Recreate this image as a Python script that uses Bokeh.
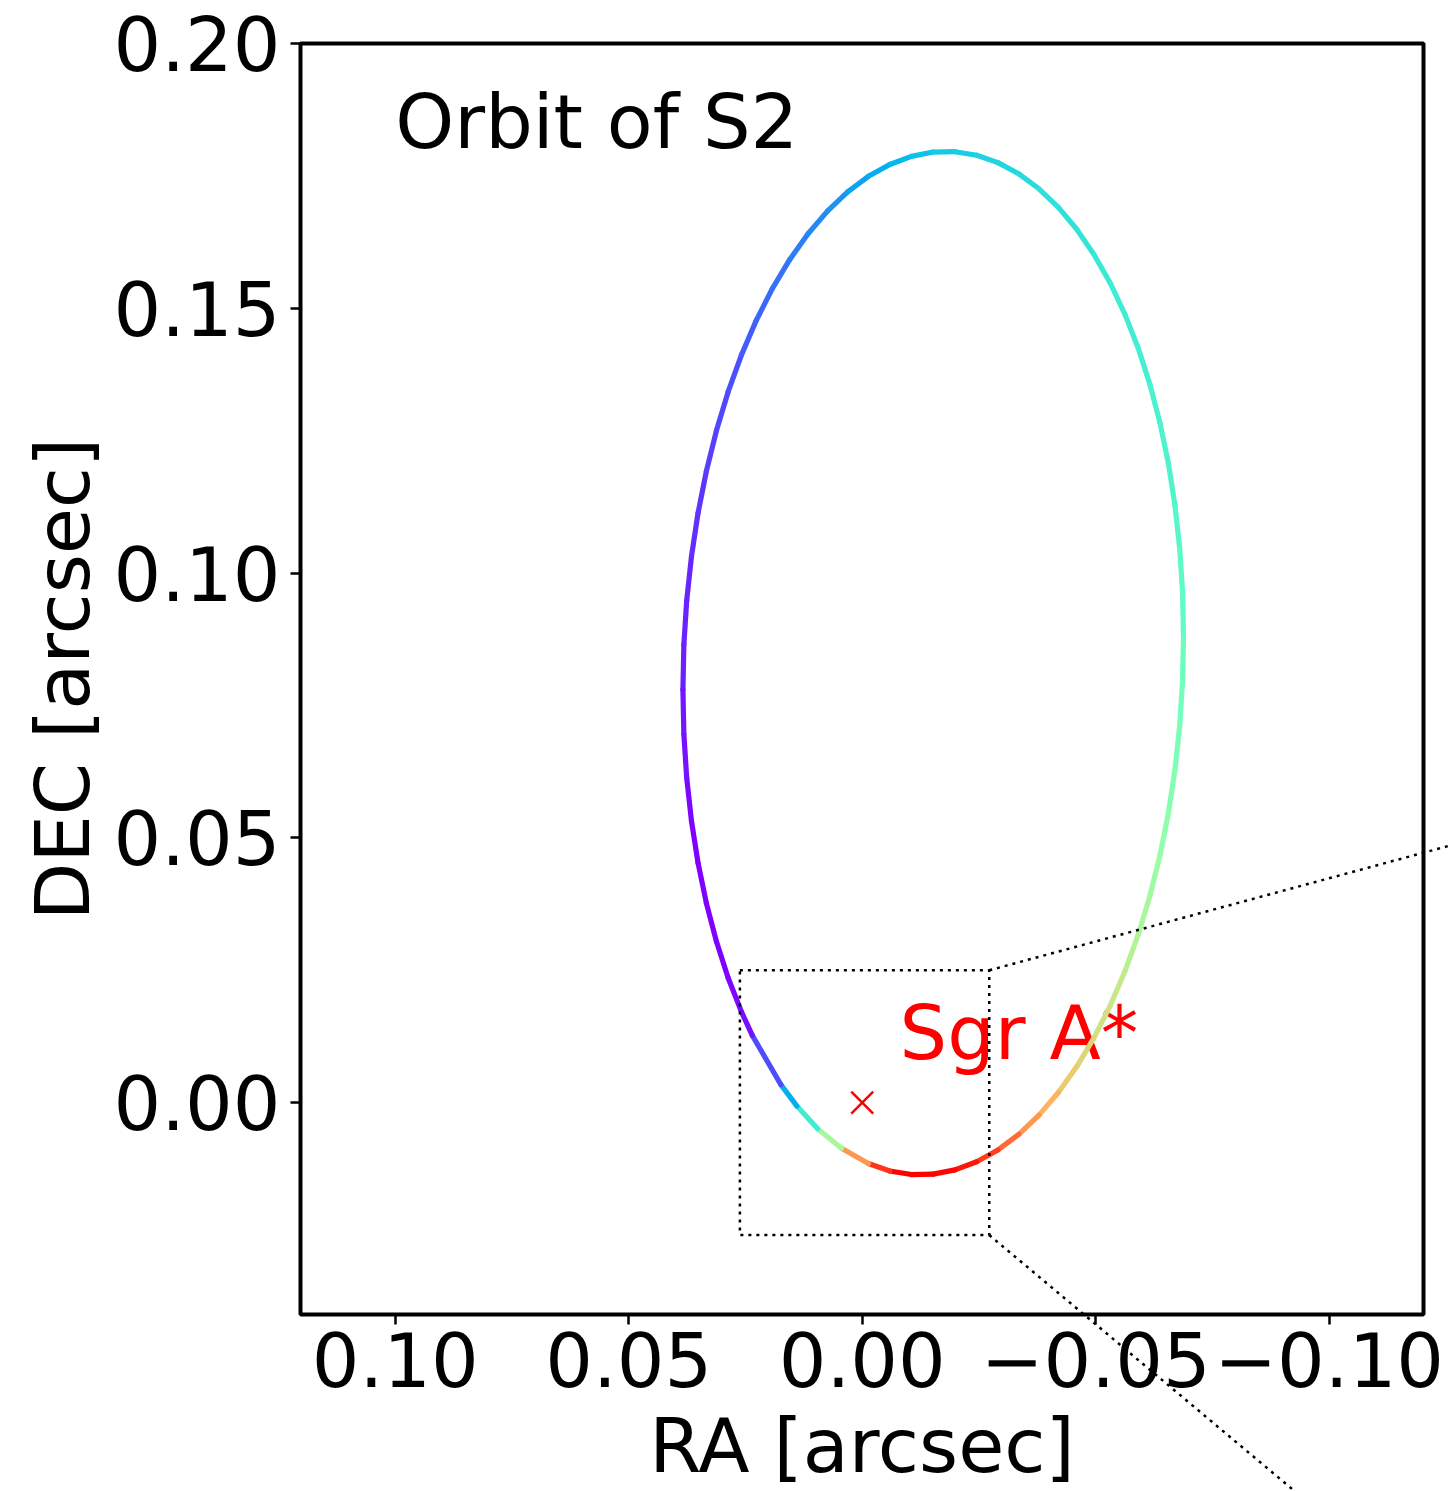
import math
from bokeh.plotting import figure
from bokeh.models import Range1d, FixedTicker, CustomJSTickFormatter, ColumnDataSource, GridBox
from bokeh.transform import linear_cmap
from bokeh.core.properties import value
from bokeh.embed import file_html
from bokeh.resources import INLINE

# ---- data ----
# projected orbit of S2 (RA, DEC in arcsec), in drawing order
ra = [0.0384, 0.0382, 0.03759, 0.03657, 0.03517, 0.03338, 0.03122, 0.02871, 0.02586, 0.0227,
      0.01925, 0.01554, 0.0116, 0.00745, 0.00313, -0.00133, -0.0059, -0.01053, -0.0152, -0.01987,
      -0.0245, -0.02907, -0.03353, -0.03785, -0.042, -0.04594, -0.04965, -0.0531, -0.05626, -0.05911,
      -0.06162, -0.06378, -0.06557, -0.06697, -0.06799, -0.0686, -0.0688, -0.0686, -0.06799, -0.06697,
      -0.06557, -0.06378, -0.06162, -0.05911, -0.05626, -0.0531, -0.04965, -0.04594, -0.042, -0.03785,
      -0.03353, -0.02907, -0.0245, -0.01987, -0.0152, -0.01053, -0.0059, -0.00133, 0.00444, 0.00955,
      0.01399, 0.01743, 0.02357, 0.02586, 0.02871, 0.03122, 0.03338, 0.03517, 0.03657, 0.03759,
      0.0382, 0.0384]
dec = [0.078, 0.08643, 0.09483, 0.10314, 0.1113, 0.11925, 0.12692, 0.13425, 0.1412, 0.1477,
       0.15371, 0.15918, 0.16407, 0.16835, 0.17197, 0.17492, 0.17716, 0.17869, 0.1795, 0.17957,
       0.1789, 0.1775, 0.17539, 0.17257, 0.16907, 0.16492, 0.16013, 0.15478, 0.14886, 0.14245,
       0.13558, 0.12831, 0.1207, 0.1128, 0.10467, 0.09639, 0.088, 0.07957, 0.07117, 0.06286,
       0.0547, 0.04675, 0.03908, 0.03175, 0.0248, 0.0183, 0.01229, 0.00682, 0.00193, -0.00235,
       -0.00597, -0.00892, -0.01116, -0.01269, -0.0135, -0.01357, -0.0129, -0.0115, -0.00861, -0.00491,
       -0.00065, 0.0034, 0.01275, 0.01714, 0.02355, 0.03042, 0.03769, 0.0453, 0.0532, 0.06133,
       0.06961, 0.078]
# colour value (0..1 on the rainbow map) of each orbit segment
seg_value = [0.04, 0.045, 0.05, 0.06, 0.07, 0.08, 0.09, 0.105, 0.12, 0.135,
             0.15, 0.165, 0.18, 0.2, 0.22, 0.24, 0.26, 0.275, 0.29, 0.3,
             0.31, 0.32, 0.33, 0.34, 0.345, 0.355, 0.365, 0.375, 0.38, 0.39,
             0.395, 0.405, 0.41, 0.42, 0.435, 0.445, 0.46, 0.475, 0.49, 0.51,
             0.535, 0.555, 0.58, 0.605, 0.635, 0.655, 0.68, 0.71, 0.75, 0.8,
             0.86, 0.92, 0.97, 0.99, 1.0, 1.0, 0.93, 0.8, 0.58, 0.375,
             0.24, 0.1, 0.02, 0.01, 0.0, 0.0, 0.0, 0.0, 0.01, 0.02,
             0.03]

sgr_ra = [0.0]
sgr_dec = [0.0]

# zoom box (inset region) and its connector lines toward the (off-page) inset
box_left, box_right, box_bottom, box_top = 0.0262, -0.0272, -0.025, 0.025
conn_top_end = (-0.1797, 0.0614)
conn_bottom_end = (-0.1461, -0.1129)

x_ticks = [0.10, 0.05, 0.00, -0.05, -0.10]
y_ticks = [0.00, 0.05, 0.10, 0.15, 0.20]
x_lim = (0.1203, -0.1202)
y_lim = (-0.04, 0.20)

FONT = "DejaVu Sans"
FS = "75px"

# layout (pixels)
BL, BT, BR, BB = 300, 43, 27, 177
FW, FH = 1123, 1271
W, H = BL + FW + BR, BT + FH + BB


def rainbow(v):
    r = min(1.0, abs(2 * v - 0.5))
    g = max(0.0, math.sin(math.pi * v))
    b = max(0.0, math.cos(math.pi * v / 2))
    return "#%02x%02x%02x" % (round(r * 255), round(g * 255), round(b * 255))


palette = [rainbow(i / 255) for i in range(256)]

p = figure(frame_width=FW, frame_height=FH,
           min_border_left=BL, min_border_right=BR, min_border_top=BT, min_border_bottom=BB,
           x_range=Range1d(*x_lim), y_range=Range1d(*y_lim),
           output_backend="svg", toolbar_location=None)
p.background_fill_color = "white"
p.border_fill_color = "white"
p.outline_line_color = "black"
p.outline_line_width = 4
p.xgrid.visible = False
p.ygrid.visible = False

fmt = CustomJSTickFormatter(code="""
var s = Math.abs(tick).toFixed(2);
return (tick < -1e-9 ? '\\u2212' : '') + s;
""")
p.xaxis.ticker = FixedTicker(ticks=x_ticks)
p.yaxis.ticker = FixedTicker(ticks=y_ticks)
p.xaxis.formatter = fmt
p.yaxis.formatter = fmt
p.xaxis.axis_label = "RA [arcsec]"
p.yaxis.axis_label = "DEC [arcsec]"
for ax in (p.xaxis, p.yaxis):
    ax.axis_line_color = None
    ax.major_tick_out = 10
    ax.major_tick_in = 0
    ax.major_tick_line_width = 2.5
    ax.major_tick_line_color = "black"
    ax.minor_tick_out = 0
    ax.minor_tick_in = 0
    ax.major_label_text_font = FONT
    ax.major_label_text_font_size = FS
    ax.major_label_text_color = "black"
    ax.axis_label_text_font = FONT
    ax.axis_label_text_font_size = FS
    ax.axis_label_text_font_style = "normal"
    ax.axis_label_text_color = "black"
p.xaxis.major_label_standoff = 7
p.yaxis.major_label_standoff = 10
p.xaxis.axis_label_standoff = 12
p.yaxis.axis_label_standoff = 4

# texts (drawn first so the orbit lies on top)
p.text(x=[-0.008], y=[0.008], text=["Sgr A*"], text_font=value(FONT), text_font_size=FS,
       text_color="red", text_baseline="alphabetic", text_align="left", y_offset=-27)
p.text(x=[0.1], y=[0.18], text=["Orbit of S2"], text_font=value(FONT), text_font_size=FS,
       text_color="black", text_baseline="alphabetic", text_align="left", y_offset=-27)

src = ColumnDataSource(dict(x0=ra[:-1], y0=dec[:-1], x1=ra[1:], y1=dec[1:], v=seg_value))
p.segment(x0="x0", y0="y0", x1="x1", y1="y1", source=src,
          line_color=linear_cmap("v", palette, 0, 1), line_width=5.2, line_cap="round")

p.scatter(x=sgr_ra, y=sgr_dec, marker="x", size=31, line_color="red", line_width=2.5)

p.quad(left=[box_left], right=[box_right], bottom=[box_bottom], top=[box_top],
       fill_color=None, line_color="black", line_width=2.5, line_dash="3 5")

# transparent overlay figure; the grid aligns its frame with the main frame's
# top-left corner, and it keeps the same data scale, so the connector lines
# can leave the axes box and run to the page edge
sx = FW / (x_lim[0] - x_lim[1])
sy = FH / (y_lim[1] - y_lim[0])
ox = Range1d(x_lim[0], x_lim[0] - W / sx)
oy = Range1d(y_lim[1] - H / sy, y_lim[1])
q = figure(frame_width=W, frame_height=H, min_border=0,
           x_range=ox, y_range=oy, x_axis_type=None, y_axis_type=None,
           output_backend="svg", toolbar_location=None)
q.background_fill_color = None
q.border_fill_color = None
q.outline_line_color = None
q.segment(x0=[box_right, box_right], y0=[box_top, box_bottom],
          x1=[conn_top_end[0], conn_bottom_end[0]], y1=[conn_top_end[1], conn_bottom_end[1]],
          line_color="black", line_width=2.5, line_dash="3 5")

layout = GridBox(children=[(p, 0, 0), (q, 0, 0)])

open("out.html", "w").write(file_html(layout, INLINE))
